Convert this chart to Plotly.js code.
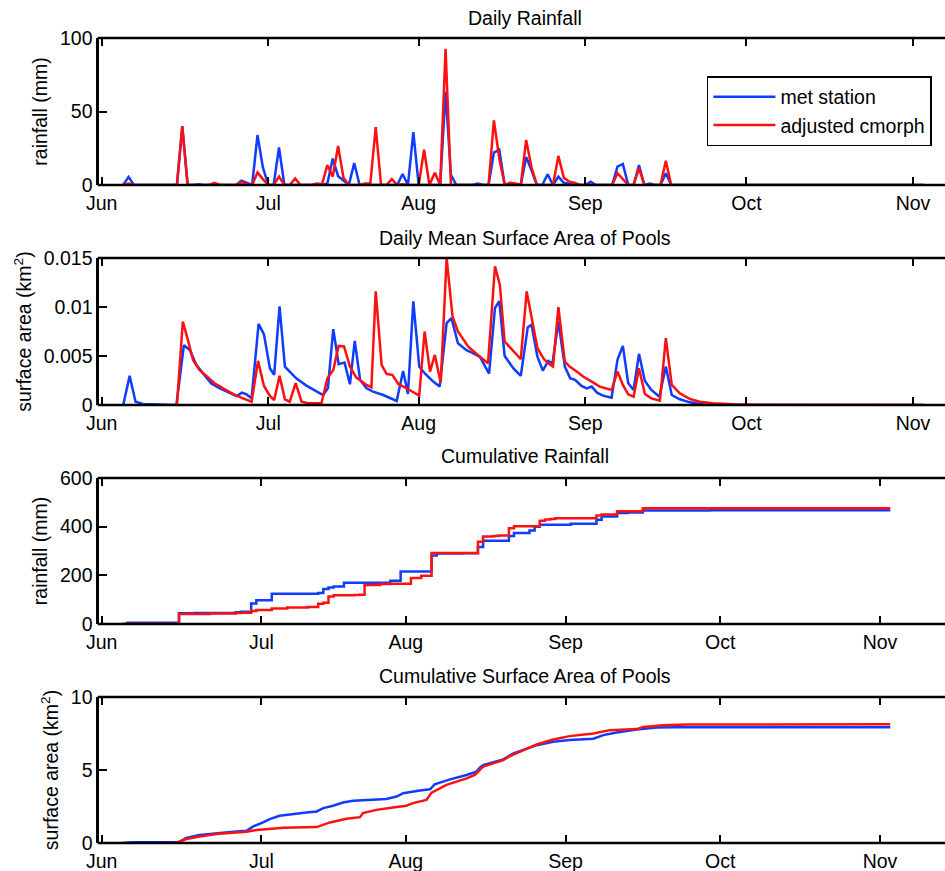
<!DOCTYPE html>
<html><head><meta charset="utf-8">
<script src="https://cdn.plot.ly/plotly-3.0.1.min.js"></script>
<style>html,body{margin:0;padding:0;background:#fff}#chart{width:945px;height:871px}</style>
</head><body><div id="chart"></div>
<script>
// x values are day numbers; ticks as in the reference figure
const monthTickDays = [0, 31, 59, 90, 120, 151];
const monthTickLabels = ['Jun', 'Jul', 'Aug', 'Sep', 'Oct', 'Nov'];
const seriesNames = ['met station', 'adjusted cmorph'];
const panelTitles = ['Daily Rainfall', 'Daily Mean Surface Area of Pools', 'Cumulative Rainfall', 'Cumulative Surface Area of Pools'];

// Daily rainfall (mm)
const metRainDays = [4,5,6,14,15,16,17,18,19,25,26,27,28,29,30,31,32,33,34,41,42,43,44,45,46,47,48,55,56,57,58,59,63,64,65,66,69,70,71,72,73,74,75,78,79,80,81,82,83,84,85,86,87,88,90,91,92,95,96,97,98,99,100,101,102,103,104,105,106,117,118,119,153];
const metRain     = [0,5.5,0,0,39.5,0,0,0.5,0,0,3,1.5,0,34,12,0,0,25.5,0,0,1,18,6,3,0,15,0,0,7.5,0,36,0,0,63.5,7,0,0,1,0,0,22,24,0,0,19,10,0,0,7.3,0,5.7,1.5,0.5,0,0,2.3,0,0,12.5,14.3,0,0,13.6,0,1,0,0,8,0,0,0.5,0,0];
const cmorphRainDays = [4,5,6,14,15,16,20,21,22,25,26,27,28,29,30,31,32,33,34,35,36,37,39,40,41,42,43,44,45,46,48,49,50,51,52,53,54,55,56,57,59,60,61,62,63,64,65,70,72,73,74,75,76,77,78,79,80,81,84,85,86,87,88,89,95,96,97,98,99,100,101,104,105,106,153];
const cmorphRain     = [0,1,0,0,40,0,0,1.5,0,0,2,0.5,0,8.5,4,0,0,5.7,0,0,4.5,0,0,1,0.5,13.5,5.7,26.5,5,0,0,1,1,39.3,0,0,4,0,0.5,0,0,24,0,8.4,0,92.7,0,0,0,44,18,0,1.5,1,0,30.7,12,0,0,19.8,5,2.3,1.5,0,0,8,4,0,0,11.4,0,0,16.4,0,0];

// Daily mean surface area of pools (km^2)
const metAreaDays = [4,5.2,6.3,7.7,13.9,15.3,16.4,17.6,18.9,20.4,22,23.5,25.1,26.1,26.9,27.9,29.2,30.2,31.3,32.1,33.1,34.1,36.2,38.1,40,41.2,42.1,43.1,44.1,45.2,46.2,47.1,48.1,49.3,50.5,52.4,54.9,56.1,57,58,59.1,60.1,61.7,62.9,64.2,65.1,66.3,67.9,69.1,70.4,72.1,73.2,74,75,76.6,78,79.3,80,81.1,82.1,83.1,83.9,85,86.2,87.2,88.1,89.3,90.3,91.2,92.2,93.3,94.9,96,97,98,99,100,101.1,102.3,103.8,105,106.1,107.6,109.5,111.3,113.8,153];
const metArea     = [0,0.00297,0.00034,0.0001,0,0.0061,0.0056,0.0041,0.0032,0.0022,0.0017,0.00136,0.00092,0.00126,0.0011,0.00068,0.00828,0.0072,0.00375,0.00307,0.01006,0.00392,0.00273,0.00198,0.00143,0.00102,0.0017,0.00774,0.00416,0.00433,0.00211,0.00655,0.00256,0.0017,0.00136,0.00102,0.00041,0.00348,0.00113,0.01057,0.00392,0.00324,0.00239,0.00188,0.00835,0.00886,0.0063,0.0056,0.0053,0.0049,0.0032,0.0099,0.0106,0.005,0.00375,0.00297,0.00794,0.00818,0.00494,0.00351,0.0045,0.00426,0.00852,0.00392,0.00273,0.00256,0.00194,0.0017,0.00188,0.00126,0.00095,0.00075,0.0046,0.00603,0.00222,0.00153,0.00522,0.00245,0.00153,0.00085,0.00392,0.00102,0.00058,0.00027,0.0001,0,0];
const cmorphAreaDays = [14,15.1,15.9,17,18.2,19.5,21,22.6,24.4,26.3,27.9,29.1,30.2,31.3,32.1,33.1,34.1,35,36.1,37.2,38.4,40.9,42,43.1,44.1,45.1,46.2,47.4,49.3,50.2,51,52.1,53,54.1,55.2,57.3,59.1,60.1,61.1,62,63.1,64.2,65.3,66.3,68.2,70,71.9,73.2,74.1,75,76.6,78,79.1,80,81.1,82.2,83.1,84,85,86.2,87.1,88.4,89.6,91.2,92.7,94.9,96,97,98,99,100,101.1,102.3,103.9,105,106.1,107.6,109.5,111.3,113.8,117.5,122.5,130.5,153];
const cmorphArea     = [0,0.00852,0.00692,0.0046,0.00358,0.0029,0.00222,0.0017,0.00113,0.00068,0.00034,0.0045,0.00194,0.00092,0.00051,0.00297,0.00058,0.00034,0.00222,0.00034,0.00017,0.00017,0.00273,0.00358,0.00603,0.00597,0.00392,0.0028,0.00205,0.00181,0.0116,0.00409,0.00317,0.00307,0.00215,0.00153,0.00095,0.0075,0.00341,0.00511,0.00228,0.015,0.00903,0.0075,0.00597,0.00511,0.00426,0.01415,0.01227,0.00648,0.00552,0.00467,0.01159,0.00886,0.0058,0.00477,0.00426,0.00392,0.00999,0.00443,0.00392,0.00341,0.0029,0.00239,0.00188,0.00153,0.00341,0.00205,0.00109,0.00085,0.00375,0.00113,0.00068,0.00044,0.00682,0.00205,0.00119,0.00061,0.00034,0.00017,0.00007,0.00003,0.00001,0];

// Cumulative rainfall (mm), step points
const metCumRainDays = [4,5,15,18,26,27,29,30,33,42,43,44,45,47,56,58,64,65,70,73,74,79,80,83,84,85,91,96,97,100,102,105,118,153];
const metCumRain     = [0,5,44,45,48,50,84,98,124,127,144,150,154,170,178,216,282,290,291,316,342,362,374,384,400,408,412,428,442,456,458,466,467,467];
const cmorphCumRainDays = [4,5,15,21,26,27,29,30,33,36,40,42,43,44,45,49,50,51,54,56,60,62,64,73,74,76,77,79,80,85,86,87,88,96,97,100,105,153];
const cmorphCumRain     = [0,1,41,43,45,46,53,58,64,68,70,83,87,113,118,119,120,160,164,165,189,198,292,338,360,362,364,394,402,424,429,432,435,446,450,463,476,476];

// Cumulative surface area of pools (km^2)
const metCumAreaDays = [4,6,15,16.4,19,22.3,25.5,28.1,29.4,31.3,32.6,34.5,37.1,39.7,41.7,43,44.9,46.8,48.8,51.4,55.2,57.2,58.5,61.7,63.7,64.6,67.6,70.8,72.7,73.4,74,77.9,79.9,84.4,87.6,90.8,95.4,97.3,99.9,103.8,107.7,111.5,153];
const metCumArea     = [0,0.05,0.07,0.34,0.55,0.68,0.77,0.84,1.14,1.41,1.64,1.86,2.0,2.09,2.16,2.39,2.55,2.77,2.89,2.95,3.02,3.18,3.41,3.59,3.68,4.02,4.36,4.66,4.89,5.18,5.34,5.73,6.14,6.7,6.93,7.05,7.14,7.39,7.57,7.77,7.91,7.93,7.93];
const cmorphCumAreaDays = [14,14.8,16.4,19,22.3,25.5,28.1,29.4,32,35.2,41.7,44.3,47.5,50.1,50.7,53.3,56.5,59.1,60.4,63,64,66.9,70.8,72.4,74,77.9,79.2,84.4,87.6,90.8,95.4,98.6,103.8,105.1,109,113.6,153];
const cmorphCumArea     = [0,0.05,0.27,0.45,0.61,0.7,0.77,0.86,0.93,1.05,1.09,1.41,1.66,1.77,2.05,2.27,2.43,2.55,2.73,2.95,3.45,3.98,4.43,4.66,5.23,5.68,5.95,6.75,7.09,7.32,7.5,7.73,7.8,7.95,8.07,8.11,8.14];

const BLUE = '#0f3cff', RED = '#ff1010';
const FONT = 'Liberation Sans, Arial, Helvetica, sans-serif';
const FS = 19.5;
const LW = 2.5;   // data line width
const AW = 2.6;   // frame line width
const W = 945, H = 871;

function tr(x, y, color, name, xa, ya, show, shape) {
  return {x: x, y: y, type: 'scatter', mode: 'lines', name: name, xaxis: xa, yaxis: ya,
    showlegend: show, line: {color: color, width: LW, shape: shape || 'linear'}, hoverinfo: 'skip'};
}
const data = [
  tr(metRainDays, metRain, BLUE, seriesNames[0], 'x', 'y', true),
  tr(cmorphRainDays, cmorphRain, RED, seriesNames[1], 'x', 'y', true),
  tr(metAreaDays, metArea, BLUE, seriesNames[0], 'x2', 'y2', false),
  tr(cmorphAreaDays, cmorphArea, RED, seriesNames[1], 'x2', 'y2', false),
  tr(metCumRainDays, metCumRain, BLUE, seriesNames[0], 'x3', 'y3', false, 'hv'),
  tr(cmorphCumRainDays, cmorphCumRain, RED, seriesNames[1], 'x3', 'y3', false, 'hv'),
  tr(metCumAreaDays, metCumArea, BLUE, seriesNames[0], 'x4', 'y4', false),
  tr(cmorphCumAreaDays, cmorphCumArea, RED, seriesNames[1], 'x4', 'y4', false)
];

// frame line centres in px: left line, and top/bottom of each panel
const leftLine = 98;
const plotLeft = leftLine + AW / 2;
const PW = W - plotLeft;
const panels = [[38, 185], [258, 405], [478, 624], [697, 843]];
function xRange(pxJun, pxNov) {
  const k = (pxNov - pxJun) / (monthTickDays[5] - monthTickDays[0]);
  return [(plotLeft - pxJun) / k, (W - pxJun) / k];
}
function yDom(p) { return [1 - p[1] / H, 1 - p[0] / H]; }
function xax(range, anchor) {
  return {range: range, anchor: anchor, tickmode: 'array', tickvals: monthTickDays, ticktext: monthTickLabels,
    ticks: 'inside', ticklen: 8, tickwidth: 2, tickcolor: '#000', showline: false,
    mirror: 'ticks', showgrid: false, zeroline: false, layer: 'above traces', ticklabelstandoff: 4,
    tickfont: {family: FONT, size: FS, color: '#000'}, fixedrange: true};
}
function yax(p, max, vals, texts, title, anchor) {
  return {domain: yDom(p), range: [0, max], anchor: anchor, tickmode: 'array', tickvals: vals, ticktext: texts,
    ticks: 'inside', ticklen: 8, tickwidth: 2, tickcolor: '#000', showline: true, linecolor: '#000', linewidth: AW,
    mirror: false, showgrid: false, zeroline: false, layer: 'above traces', ticklabelstandoff: 0,
    tickfont: {family: FONT, size: FS, color: '#000'},
    title: {text: title, font: {family: FONT, size: FS, color: '#000'}, standoff: 7}, fixedrange: true};
}
// top and bottom frame lines, drawn above the data (as the axes box in the reference)
const frameShapes = [];
panels.forEach(p => {
  [p[0], p[1]].forEach(yy => frameShapes.push({type: 'line', xref: 'paper', yref: 'paper', layer: 'above',
    x0: -AW / 2 / PW, x1: 1, y0: 1 - yy / H, y1: 1 - yy / H, line: {color: '#000', width: AW}}));
});
const topRange = xRange(102, 913);
const botRange = xRange(102, 880);
const layout = {
  width: W, height: H, margin: {l: plotLeft, r: 0, t: 0, b: 0},
  paper_bgcolor: '#fff', plot_bgcolor: '#fff',
  font: {family: FONT, size: FS, color: '#000'},
  xaxis: xax(topRange, 'y'), xaxis2: xax(topRange, 'y2'), xaxis3: xax(botRange, 'y3'), xaxis4: xax(botRange, 'y4'),
  yaxis: yax(panels[0], 100, [0, 50, 100], ['0', '50', '100'], 'rainfall (mm)', 'x'),
  yaxis2: yax(panels[1], 0.015, [0, 0.005, 0.01, 0.015], ['0', '0.005', '0.01', '0.015'], 'surface area (km<sup>2</sup>)', 'x2'),
  yaxis3: yax(panels[2], 600, [0, 200, 400, 600], ['0', '200', '400', '600'], 'rainfall (mm)', 'x3'),
  yaxis4: yax(panels[3], 10, [0, 5, 10], ['0', '5', '10'], 'surface area (km<sup>2</sup>)', 'x4'),
  shapes: frameShapes,
  showlegend: true,
  legend: {x: (707 - plotLeft) / PW, y: 1 - 76 / H, xanchor: 'left', yanchor: 'top', bgcolor: '#fff',
    bordercolor: '#000', borderwidth: 1.5, font: {family: FONT, size: FS, color: '#000'}, itemwidth: 62},
  annotations: [
    {text: panelTitles[0], y: 1 - 18 / H},
    {text: panelTitles[1], y: 1 - 238 / H},
    {text: panelTitles[2], y: 1 - 456 / H},
    {text: panelTitles[3], y: 1 - 676 / H}
  ].map(a => Object.assign({xref: 'paper', yref: 'paper', x: (525 - plotLeft) / PW, xanchor: 'center', yanchor: 'middle',
    showarrow: false, font: {family: FONT, size: FS, color: '#000'}}, a))
};
Plotly.newPlot('chart', data, layout, {displayModeBar: false, staticPlot: true});
</script></body></html>
